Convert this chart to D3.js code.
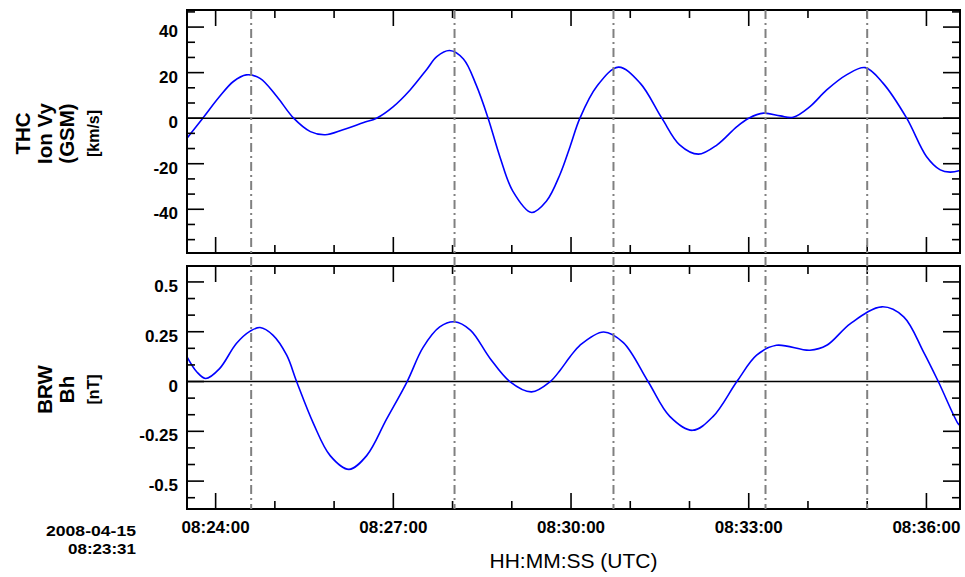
<!DOCTYPE html>
<html>
<head>
<meta charset="utf-8">
<script src="https://cdn.jsdelivr.net/npm/d3@7"></script>
<style>
  body { margin: 0; background: #fff; }
  text { font-family: "Liberation Sans", Arial, Helvetica, sans-serif; fill: #000; }
</style>
</head>
<body>
<div id="chart"></div>
<script>
// Data
var dateStr = "2008-04-15";
var startTime = "08:23:31";
var endTime = "08:36:34";
var xTickLabels = ["08:24:00", "08:27:00", "08:30:00", "08:33:00", "08:36:00"];
var markerTimes = ["08:24:36", "08:28:02", "08:30:43", "08:33:17", "08:35:00"];

// THC ion velocity Vy (GSM), km/s
var thcTimes = ["08:23:31","08:23:47","08:24:04","08:24:18","08:24:31","08:24:45","08:25:02","08:25:19",
  "08:25:36","08:25:51","08:26:09","08:26:30","08:26:43","08:27:00","08:27:17","08:27:34","08:27:44",
  "08:27:57","08:28:11","08:28:24","08:28:36","08:28:48","08:29:01","08:29:20","08:29:35","08:29:49",
  "08:29:59","08:30:09","08:30:26","08:30:48","08:31:10","08:31:32","08:31:50","08:32:09","08:32:28",
  "08:32:48","08:33:00","08:33:15","08:33:32","08:33:45","08:34:02","08:34:19","08:34:39","08:34:58",
  "08:35:16","08:35:40","08:36:00","08:36:14","08:36:24","08:36:34"];
var thcVy = [-8.8, 0, 9.5, 16.1, 19.0, 17.5, 9.5, 0,
  -5.9, -7.3, -5.1, -1.9, 0, 5.1, 12.4, 21.5, 27.0,
  29.7, 26.0, 14.5, 0, -17.0, -32.0, -41.4, -36.5, -24.5,
  -12.5, 0, 13.9, 22.4, 15.4, 0, -11.7, -15.8, -11.7,
  -3.7, 0, 2.2, 1.0, 0.4, 5.1, 12.4, 19.0, 22.2,
  15.4, 0, -16.8, -22.7, -23.7, -23.0];

// BRW magnetometer Bh, nT
var brwTimes = ["08:23:31","08:23:41","08:23:50","08:24:04","08:24:21","08:24:35","08:24:45","08:24:58",
  "08:25:12","08:25:22","08:25:39","08:25:56","08:26:15","08:26:33","08:26:53","08:27:14","08:27:30",
  "08:27:47","08:28:02","08:28:18","08:28:38","08:28:58","08:29:20","08:29:39","08:29:49","08:29:59",
  "08:30:09","08:30:33","08:30:53","08:31:18","08:31:40","08:32:03","08:32:24","08:32:48","08:33:08",
  "08:33:28","08:34:02","08:34:19","08:34:43","08:35:15","08:35:37","08:35:57","08:36:12","08:36:32",
  "08:36:34"];
var brwBh = [0.124, 0.048, 0.015, 0.065, 0.191, 0.253, 0.271, 0.233,
  0.132, 0, -0.210, -0.372, -0.441, -0.372, -0.190, 0, 0.170,
  0.274, 0.300, 0.258, 0.116, 0, -0.052, 0, 0.057, 0.124,
  0.182, 0.249, 0.195, 0, -0.175, -0.245, -0.175, 0, 0.132,
  0.182, 0.157, 0.182, 0.291, 0.375, 0.325, 0.149, 0, -0.211,
  -0.22];

var thcTicks = [-40, -20, 0, 20, 40];
var brwTicks = [-0.5, -0.25, 0, 0.25, 0.5];
var brwTickLabels = ["-0.5", "-0.25", "0", "0.25", "0.5"];

// Layout
var svgWidth = 965;
var svgHeight = 577;
var plotLeft = 187;
var plotRight = 960;
var panels = [
  { top: 10, bottom: 253, domain: [-59.2, 47.5], major: thcTicks, labels: thcTicks.map(String),
    minorStep: 20 / 3, times: thcTimes, values: thcVy,
    title: ["(GSM)", "Ion Vy", "THC"], unit: "[km/s]" },
  { top: 266, bottom: 509, domain: [-0.64, 0.58], major: brwTicks, labels: brwTickLabels,
    minorStep: 0.25 / 3, times: brwTimes, values: brwBh,
    title: ["Bh", "BRW"], unit: "[nT]" }
];

var parseTime = d3.utcParse("%Y-%m-%d %H:%M:%S");
function toDate(t) { return parseTime(dateStr + " " + t); }

var svg = d3.select("#chart")
  .append("svg")
  .attr("width", svgWidth)
  .attr("height", svgHeight);

var xScale = d3.scaleUtc()
  .domain([toDate(startTime), toDate(endTime)])
  .range([plotLeft, plotRight]);

var majorX = xTickLabels.map(toDate);
var minorX = d3.utcMinute.range(toDate(startTime), toDate(endTime))
  .filter(d => d.getUTCMinutes() % 3 !== 0);

panels.forEach(function(p) {
  var yScale = d3.scaleLinear().domain(p.domain).range([p.bottom, p.top]);
  var g = svg.append("g");

  // zero line
  g.append("line")
    .attr("x1", plotLeft).attr("x2", plotRight)
    .attr("y1", yScale(0)).attr("y2", yScale(0))
    .attr("stroke", "#000").attr("stroke-width", 1.6);

  // data curve
  var line = d3.line()
    .x((d, i) => xScale(toDate(p.times[i])))
    .y(d => yScale(d))
    .curve(d3.curveCatmullRom.alpha(0.5));
  g.append("path")
    .datum(p.values)
    .attr("d", line)
    .attr("fill", "none")
    .attr("stroke", "#0000ff")
    .attr("stroke-width", 1.6);

  // y ticks both sides
  var minorY = d3.range(Math.ceil(p.domain[0] / p.minorStep), Math.floor(p.domain[1] / p.minorStep) + 1)
    .map(k => k * p.minorStep);
  function isMajor(d) {
    return p.major.some(m => Math.abs(m - d) < p.minorStep / 10);
  }
  function yTicks(x0, dir) {
    g.selectAll(null).data(minorY).enter().append("line")
      .attr("x1", x0).attr("x2", d => x0 + dir * (isMajor(d) ? 17 : 8))
      .attr("y1", d => yScale(d)).attr("y2", d => yScale(d))
      .attr("stroke", "#000").attr("stroke-width", 1.6);
  }
  yTicks(plotLeft, 1);
  yTicks(plotRight, -1);

  // x ticks top and bottom
  function xTicks(y0, dir) {
    g.selectAll(null).data(majorX).enter().append("line")
      .attr("x1", d => xScale(d)).attr("x2", d => xScale(d))
      .attr("y1", y0).attr("y2", y0 + dir * 16)
      .attr("stroke", "#000").attr("stroke-width", 1.6);
    g.selectAll(null).data(minorX).enter().append("line")
      .attr("x1", d => xScale(d)).attr("x2", d => xScale(d))
      .attr("y1", y0).attr("y2", y0 + dir * 8)
      .attr("stroke", "#000").attr("stroke-width", 1.6);
  }
  xTicks(p.top, 1);
  xTicks(p.bottom, -1);

  // y tick labels
  g.selectAll(null).data(p.major).enter().append("text")
    .attr("x", 178)
    .attr("y", d => yScale(d) + 10)
    .attr("text-anchor", "end")
    .attr("font-size", "17px")
    .attr("font-weight", "bold")
    .text((d, i) => p.labels[i]);

  // panel frame
  g.append("rect")
    .attr("x", plotLeft).attr("y", p.top)
    .attr("width", plotRight - plotLeft).attr("height", p.bottom - p.top)
    .attr("fill", "none").attr("stroke", "#000").attr("stroke-width", 2);

  // rotated panel title
  var cy = (p.top + p.bottom) / 2 + 2;
  p.title.forEach(function(t, i) {
    g.append("text")
      .attr("transform", `translate(${74 - i * 22}, ${cy}) rotate(-90)`)
      .attr("text-anchor", "middle")
      .attr("font-size", "20.5px")
      .attr("font-weight", "bold")
      .text(t);
  });
  g.append("text")
    .attr("transform", `translate(99, ${cy}) rotate(-90)`)
    .attr("text-anchor", "middle")
    .attr("font-size", "16px")
    .attr("font-weight", "bold")
    .text(p.unit);
});

// vertical dash-dot event markers spanning both panels
svg.selectAll(null).data(markerTimes).enter().append("line")
  .attr("x1", d => xScale(toDate(d))).attr("x2", d => xScale(toDate(d)))
  .attr("y1", panels[0].top).attr("y2", panels[1].bottom)
  .attr("stroke", "#808080").attr("stroke-width", 2)
  .attr("stroke-dasharray", "9,4,2,4");

// x tick labels
svg.selectAll(null).data(xTickLabels).enter().append("text")
  .attr("x", d => xScale(toDate(d)))
  .attr("y", 533)
  .attr("text-anchor", "middle")
  .attr("font-size", "17px")
  .attr("font-weight", "bold")
  .text(d => d);

// start date / time, stretched to the reference width
svg.append("text")
  .attr("x", 46).attr("y", 536)
  .attr("font-size", "15.5px").attr("font-weight", "bold")
  .attr("textLength", 90).attr("lengthAdjust", "spacingAndGlyphs")
  .text(dateStr);
svg.append("text")
  .attr("x", 68).attr("y", 554)
  .attr("font-size", "15.5px").attr("font-weight", "bold")
  .attr("textLength", 68).attr("lengthAdjust", "spacingAndGlyphs")
  .text(startTime);

// x axis title
svg.append("text")
  .attr("x", (plotLeft + plotRight) / 2)
  .attr("y", 568)
  .attr("text-anchor", "middle")
  .attr("font-size", "21px")
  .text("HH:MM:SS (UTC)");
</script>
</body>
</html>
